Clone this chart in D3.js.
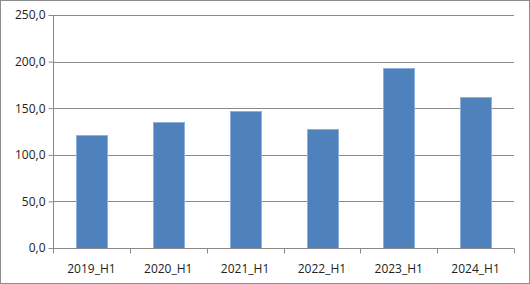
<!DOCTYPE html>
<html>
<head>
<meta charset="utf-8">
<script src="https://cdn.jsdelivr.net/npm/d3@7"></script>
<style>
  body { margin: 0; background: #fff; }
  svg text { font-family: "Open Sans", "Noto Sans", sans-serif; font-size: 12px; fill: #222; }
</style>
</head>
<body>
<div id="chart"></div>
<script>
const categories = ["2019_H1", "2020_H1", "2021_H1", "2022_H1", "2023_H1", "2024_H1"];
const values = [121.5, 135.5, 146.5, 127.5, 193.5, 162.5];
const yTicks = [0, 50, 100, 150, 200, 250];

const width = 530, height = 284;
const margin = { top: 15, right: 16, bottom: 36, left: 53 };

const svg = d3.select("#chart").append("svg")
  .attr("width", width)
  .attr("height", height);

// outer frame
svg.append("rect")
  .attr("x", 0.5).attr("y", 0.5)
  .attr("width", width - 1).attr("height", height - 1)
  .attr("fill", "#fff")
  .attr("stroke", "#8c8c8c");

const x = d3.scaleBand()
  .domain(categories)
  .range([margin.left, width - margin.right])
  .paddingInner(0.6)
  .paddingOuter(0.3);

const y = d3.scaleLinear()
  .domain([0, 250])
  .range([height - margin.bottom, margin.top]);

// gridlines
svg.append("g")
  .selectAll("line")
  .data(yTicks.filter(d => d > 0))
  .join("line")
  .attr("x1", margin.left)
  .attr("x2", width - margin.right)
  .attr("y1", d => Math.round(y(d)) + 0.5)
  .attr("y2", d => Math.round(y(d)) + 0.5)
  .attr("stroke", "#8a8a8a");

// bars
svg.append("g")
  .selectAll("rect")
  .data(values)
  .join("rect")
  .attr("x", (d, i) => Math.round(x(categories[i])) + 0.5)
  .attr("y", d => Math.round(y(d)) + 0.5)
  .attr("width", Math.round(x.bandwidth()))
  .attr("height", d => Math.round(y(0)) - Math.round(y(d)))
  .attr("fill", "#4f81bd")
  .attr("stroke", "#8fb0da")
  .attr("stroke-width", 1);

// y axis
const yAxis = svg.append("g")
  .attr("transform", `translate(${margin.left + 0.5},0)`)
  .call(d3.axisLeft(y).tickValues(yTicks).tickSize(5).tickPadding(3)
    .tickFormat(d => d3.format(".1f")(d).replace(".", ",")));
yAxis.select(".domain").attr("stroke", "#8a8a8a").attr("d", `M0,${margin.top}V${y(0)}`);
yAxis.selectAll(".tick line").attr("stroke", "#8a8a8a");
yAxis.selectAll("text").attr("fill", "#222");

// x axis with ticks at category boundaries
const xAxisG = svg.append("g")
  .attr("transform", `translate(0,${Math.round(y(0)) + 0.5})`);
xAxisG.append("line")
  .attr("x1", margin.left).attr("x2", width - margin.right)
  .attr("stroke", "#8a8a8a");
const step = x.step();
const bounds = d3.range(categories.length + 1).map(i => margin.left + i * (width - margin.left - margin.right) / categories.length);
xAxisG.selectAll("line.tk")
  .data(bounds)
  .join("line")
  .attr("class", "tk")
  .attr("x1", d => Math.round(d) + 0.5).attr("x2", d => Math.round(d) + 0.5)
  .attr("y1", 0).attr("y2", 5)
  .attr("stroke", "#8a8a8a");
xAxisG.selectAll("text")
  .data(categories)
  .join("text")
  .attr("x", d => x(d) + x.bandwidth() / 2)
  .attr("y", 24)
  .attr("text-anchor", "middle")
  .text(d => d);
</script>
</body>
</html>
